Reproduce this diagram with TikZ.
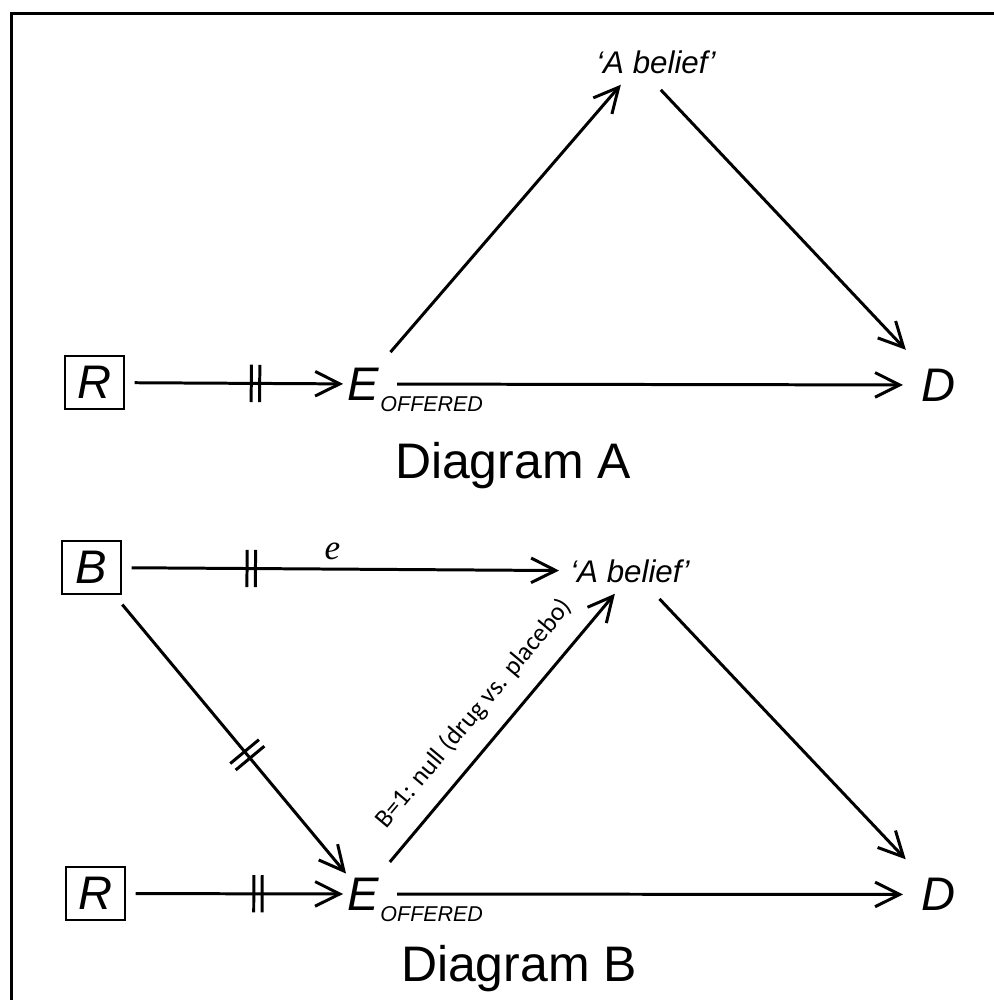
\documentclass[tikz,border=0pt]{standalone}
\usepackage{fontspec}
\setmainfont{Liberation Sans}
\newfontfamily\notefont{Carlito}
\newfontfamily\efont{Liberation Serif}
\usepackage{tikz}
\usetikzlibrary{arrows.meta,decorations.markings}

\begin{document}
\begin{tikzpicture}[
  x=0.01cm, y=-0.01cm,
  var/.style={font=\fontsize{13.4}{16}\selectfont\itshape, inner sep=1pt},
  outcome/.style={var, inner sep=5.2pt},
  boxvar/.style={var, draw, line width=0.7pt, minimum width=0.59cm,
    minimum height=0.53cm, inner sep=0pt, outer sep=3pt},
  belief/.style={font=\fontsize{8.9}{10}\selectfont\itshape, inner sep=3pt},
  arr/.style={-{Straight Barb[length=7pt, width=7pt]}, line width=0.85pt},
  cut/.style={postaction={decorate}, decoration={markings,
    mark=at position #1 with {\draw[-, line width=0.85pt]
      (-1.2pt,-5.3pt) -- (-1.2pt,5.3pt) (1.2pt,-5.3pt) -- (1.2pt,5.3pt);}}},
  elabel/.style={font=\efont\fontsize{10}{12}\selectfont\itshape, inner sep=0pt},
  note/.style={font=\notefont\fontsize{7.4}{9}\selectfont, inner sep=0pt},
  caption/.style={font=\fontsize{14.2}{17}\selectfont, inner sep=0pt, anchor=base},
]
\newcommand{\offered}{\rlap{\smash{\kern0.5pt\raisebox{-3.1pt}{\fontsize{6.1}{7}\selectfont OFFERED}}}}

\useasboundingbox (0,0) rectangle (994,1000);
\draw[line width=1pt] (994,13.5) -| (11.5,1000);

% Diagram A
\node[boxvar] (RA) at (94.5,382.5) {R};
\node[var] (EA) at (363,384) {E\offered};
\node[outcome] (DA) at (939,385) {D};
\node[belief] (belA) at (656,62) {‘A belief’};

\draw[arr, cut=0.58] (RA) -- (EA);
\draw[arr, shorten <=4pt] (EA) -- (DA);
\draw[arr, shorten <=4.3pt] (EA) -- ([xshift=-10pt]belA.south);
\draw[arr, shorten <=2pt] (belA.south) -- (DA);

\node[caption] (capA) at (513,478) {Diagram A};

% Diagram B
\node[boxvar] (BB) at (91.5,567.5) {B};
\node[boxvar] (RB) at (95.5,893.5) {R};
\node[var] (EB) at (363,894) {E\offered};
\node[outcome] (DB) at (939,894.5) {D};
\node[belief] (belB) at (630,571) {‘A belief’};

\draw[arr, cut=0.28] (BB) -- (belB)
  node[elabel, pos=0.47, above=2.2pt] {e};
\draw[arr, cut=0.56] (BB) -- (EB);
\draw[arr, cut=0.59] (RB) -- (EB);
\draw[arr, shorten <=4pt] (EB) -- (DB);
\draw[arr, shorten <=4.3pt] (EB) -- ([xshift=-4.3pt]belB.south)
  node[note, midway, sloped, above=5pt] {B=1: null (drug vs. placebo)};
\draw[arr, shorten <=2pt] ([xshift=7pt]belB.south) -- (DB);

\node[caption] (capB) at (519,981) {Diagram B};

\end{tikzpicture}
\end{document}
